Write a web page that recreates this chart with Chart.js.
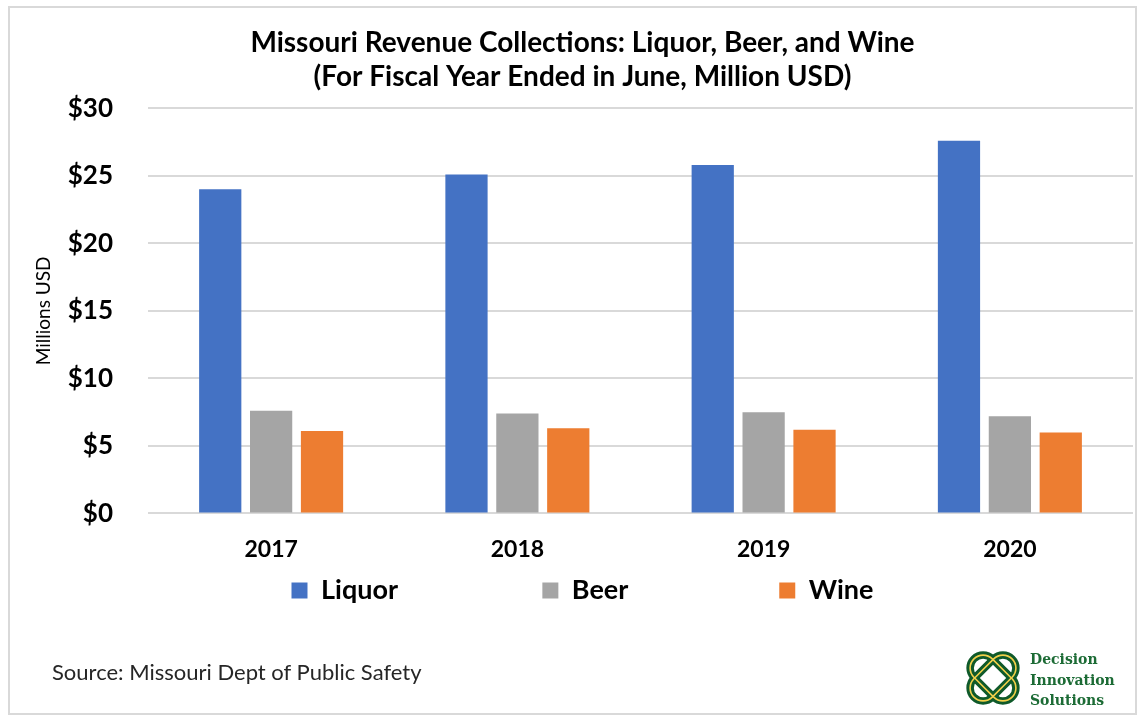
<!DOCTYPE html>
<html lang="en">
<head>
<meta charset="UTF-8">
<title>Missouri Revenue Collections</title>
<script src="https://cdn.jsdelivr.net/npm/chart.js"></script>
<style>
  html, body { margin: 0; padding: 0; background: #fff; }
  .wrap { position: relative; width: 1143px; height: 721px; overflow: hidden; }
  .frame {
    position: absolute; left: 8px; top: 6px; width: 1129px; height: 709px;
    border: 2px solid #d9d9d9; box-sizing: border-box;
  }
  canvas { position: absolute; left: 0; top: 0; }
  .source {
    position: absolute; left: 52px; top: 659px;
    font-family: Lato, "Open Sans", sans-serif; font-size: 22px; line-height: 26px; color: #262626;
  }
  .logo { position: absolute; left: 963px; top: 646px; }
  .logo-text {
    position: absolute; left: 1030px; top: 649px;
    font-family: "DejaVu Serif", "Liberation Serif", serif; font-weight: bold;
    font-size: 14px; line-height: 20.5px; color: #1c6b35;
  }
</style>
</head>
<body>
<div class="wrap">
  <div class="frame"></div>
  <canvas id="Chart" width="1143" height="721"></canvas>
  <div class="source">Source: Missouri Dept of Public Safety</div>
  <svg class="logo" width="60" height="64" viewBox="0 0 60 64">
    <g fill="none">
      <rect x="3" y="19" width="54" height="26" rx="13" transform="rotate(45 30 32)" stroke="#0f5a2a" stroke-width="7.5"/>
      <rect x="3" y="19" width="54" height="26" rx="13" transform="rotate(-45 30 32)" stroke="#0f5a2a" stroke-width="7.5"/>
      <rect x="3" y="19" width="54" height="26" rx="13" transform="rotate(45 30 32)" stroke="#f2d04a" stroke-width="1.6"/>
      <rect x="3" y="19" width="54" height="26" rx="13" transform="rotate(-45 30 32)" stroke="#f2d04a" stroke-width="1.6"/>
    </g>
  </svg>
  <div class="logo-text">Decision<br>Innovation<br>Solutions</div>
</div>
<script>
  // Data
  const years = ["2017", "2018", "2019", "2020"];
  const liquor = [24.0, 25.1, 25.8, 27.6];
  const beer = [7.6, 7.4, 7.5, 7.2];
  const wine = [6.1, 6.3, 6.2, 6.0];
  const yTicks = [0, 5, 10, 15, 20, 25, 30];

  const FONT = "Lato, 'Open Sans', sans-serif";
  const PAD_LEFT = 32;

  // extra spaces after legend texts so the items spread like the reference
  const legendGap = [22, 23, 0];

  function makeSet(label, data, color) {
    return {
      label: label,
      data: data,
      backgroundColor: color,
      borderWidth: 0,
      categoryPercentage: 0.62,
      barPercentage: 0.83,
    };
  }

  const ctx = document.getElementById("Chart").getContext("2d");
  new Chart(ctx, {
    type: "bar",
    data: {
      labels: years,
      datasets: [
        makeSet("Liquor", liquor, "#4472c4"),
        makeSet("Beer", beer, "#a5a5a5"),
        makeSet("Wine", wine, "#ed7d31"),
      ],
    },
    options: {
      responsive: false,
      animation: false,
      layout: { padding: { left: PAD_LEFT, right: 10, top: 0, bottom: 107 } },
      plugins: {
        title: {
          display: true,
          text: [
            "Missouri Revenue Collections: Liquor, Beer, and Wine",
            "(For Fiscal Year Ended in June, Million USD)",
          ],
          color: "#000",
          font: { family: FONT, size: 28, weight: "bold", lineHeight: 1.22 },
          padding: { top: 26, bottom: 14 },
        },
        legend: {
          position: "bottom",
          labels: {
            color: "#000",
            boxWidth: 16,
            boxHeight: 16,
            padding: 0,
            font: { family: FONT, size: 27, weight: "bold" },
            generateLabels: (chart) =>
              Chart.defaults.plugins.legend.labels.generateLabels(chart).map((item, i) => {
                item.text = item.text + " ".repeat(legendGap[i]);
                return item;
              }),
          },
        },
        tooltip: { enabled: false },
      },
      scales: {
        x: {
          grid: { display: false },
          border: { display: false },
          ticks: {
            color: "#000",
            padding: 14,
            font: { family: FONT, size: 23, weight: "bold" },
          },
        },
        y: {
          min: 0,
          max: 30,
          afterBuildTicks: (scale) => {
            scale.ticks = yTicks.map((v) => ({ value: v }));
          },
          afterFit: (scale) => { scale.width = 148 - PAD_LEFT; },
          grid: { color: "#d9d9d9", lineWidth: 2, drawTicks: false },
          border: { display: false },
          ticks: {
            color: "#000",
            padding: 35,
            font: { family: FONT, size: 26, weight: "bold" },
            callback: (v) => "$" + v,
          },
          title: {
            display: true,
            text: "Millions USD",
            color: "#000",
            font: { family: FONT, size: 19 },
            padding: { top: 0, bottom: 0 },
          },
        },
      },
    },
  });
</script>
</body>
</html>
